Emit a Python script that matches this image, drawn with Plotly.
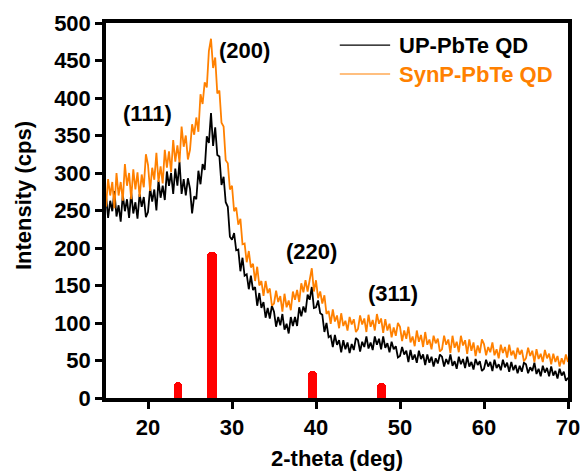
import plotly.graph_objects as go

# 2-theta grid of the scans (0.25 deg step, 15-70 deg)
two_theta = [15 + 0.25 * i for i in range(221)]

# Unprocessed PbTe quantum dots (cps)
up_pbte = [
    270, 240, 263, 249, 276, 242, 257, 235, 271, 249, 265, 240, 274, 246, 261, 239, 272, 255, 268, 241,
    248, 280, 262, 278, 250, 290, 267, 283, 264, 302, 283, 300, 272, 306, 283, 315, 272, 292, 270, 293,
    279, 246, 269, 265, 303, 285, 312, 304, 349, 340, 380, 336, 361, 324, 322, 284, 295, 261, 255, 215,
    211, 220, 197, 198, 169, 187, 163, 165, 145, 163, 144, 148, 123, 140, 120, 128, 107, 120, 106, 123,
    115, 95, 108, 97, 112, 91, 99, 86, 108, 96, 108, 96, 121, 109, 122, 114, 138, 131, 148, 120,
    121, 130, 113, 111, 88, 100, 81, 83, 68, 84, 71, 77, 61, 77, 65, 74, 60, 72, 64, 80,
    77, 62, 75, 68, 82, 66, 74, 64, 82, 71, 79, 65, 82, 67, 73, 61, 75, 65, 69, 54,
    56, 68, 58, 63, 48, 64, 51, 58, 47, 63, 52, 58, 44, 58, 47, 55, 42, 53, 46, 58,
    55, 42, 52, 45, 58, 43, 49, 39, 55, 45, 52, 40, 55, 42, 48, 38, 52, 44, 49, 36,
    39, 51, 42, 48, 36, 51, 40, 45, 37, 51, 41, 47, 35, 48, 37, 44, 33, 43, 35, 47,
    45, 33, 41, 36, 47, 32, 39, 29, 43, 34, 40, 29, 42, 30, 36, 26, 39, 30, 35, 23,
    27,
]

# Synthesised PbTe quantum dots (cps)
synp_pbte = [
    255, 292, 270, 288, 253, 300, 270, 288, 263, 312, 283, 300, 265, 305, 278, 301, 268, 298, 281, 325,
    311, 276, 307, 291, 327, 288, 309, 286, 331, 307, 329, 301, 344, 315, 337, 314, 362, 335, 350, 318,
    331, 365, 351, 374, 355, 405, 392, 421, 414, 463, 479, 440, 454, 406, 410, 367, 362, 317, 313, 278,
    283, 249, 254, 231, 239, 205, 206, 181, 196, 174, 179, 156, 175, 150, 156, 136, 156, 140, 146, 123,
    126, 143, 128, 136, 115, 139, 121, 130, 117, 142, 131, 144, 128, 153, 141, 157, 142, 160, 173, 142,
    157, 133, 142, 126, 137, 112, 116, 99, 118, 102, 110, 93, 113, 96, 103, 90, 108, 98, 105, 88,
    92, 110, 98, 106, 88, 111, 95, 104, 90, 112, 99, 106, 87, 105, 90, 99, 81, 94, 83, 100,
    95, 76, 90, 79, 95, 74, 82, 69, 90, 75, 84, 68, 88, 71, 78, 65, 83, 73, 79, 62,
    65, 83, 71, 78, 60, 83, 67, 75, 61, 83, 70, 77, 59, 78, 63, 74, 56, 70, 60, 78,
    72, 57, 68, 61, 74, 57, 65, 53, 71, 60, 68, 54, 71, 57, 63, 52, 67, 58, 64, 49,
    53, 67, 56, 63, 48, 65, 52, 59, 48, 64, 53, 59, 45, 59, 48, 56, 42, 53, 45, 58,
    48,
]

# Reference reflections of cubic PbTe
ref_pos = [23.6, 27.6, 39.6, 47.8]
ref_int = [22, 195, 36, 20]
ref_width = [1.0, 1.2, 1.0, 1.0]

# Miller-index labels
hkl_labels = ["(111)", "(200)", "(220)", "(311)"]
hkl_x = [19.9, 31.5, 39.5, 49.2]
hkl_y = [380, 464, 195, 140]

series_names = ["UP-PbTe QD", "SynP-PbTe QD"]
x_ticks = [20, 30, 40, 50, 60, 70]
y_ticks = [0, 50, 100, 150, 200, 250, 300, 350, 400, 450, 500]

FONT = "Liberation Sans, Arial, sans-serif"
FS = 22
BLACK = "#000000"
ORANGE = "#FF8000"


def bold(size=FS, color=BLACK):
    return dict(family=FONT, size=size, color=color, weight="bold")


fig = go.Figure()

fig.add_trace(go.Bar(
    x=ref_pos, y=ref_int, width=ref_width,
    marker=dict(color="#FF0000", line=dict(width=0), cornerradius=4),
    showlegend=False, hoverinfo="skip",
))

for name, yv, col in zip(series_names, [up_pbte, synp_pbte], [BLACK, ORANGE]):
    fig.add_trace(go.Scatter(
        x=two_theta, y=yv, mode="lines", name=name,
        line=dict(color=col, width=1.8), showlegend=False,
    ))

for txt, xv, yv in zip(hkl_labels, hkl_x, hkl_y):
    fig.add_annotation(x=xv, y=yv, text=txt, showarrow=False, font=bold())

# Legend drawn as line samples plus coloured labels
for name, col, ly in zip(series_names, [BLACK, ORANGE], [0.941, 0.864]):
    fig.add_shape(type="line", xref="paper", yref="paper",
                  x0=0.506, x1=0.615, y0=ly, y1=ly,
                  line=dict(color=col, width=1.2))
    fig.add_annotation(xref="paper", yref="paper", x=0.630, y=ly,
                       xanchor="left", yanchor="middle", text=name,
                       showarrow=False, font=bold(color=col))

# Vertical axis title
fig.add_annotation(xref="paper", yref="paper", x=-0.177, y=0.539,
                   text="Intensity (cps)", textangle=-90, showarrow=False,
                   xanchor="center", yanchor="middle", font=bold())

axis_common = dict(
    showline=True, linecolor=BLACK, linewidth=3.5, mirror=True,
    ticks="outside", ticklen=7, tickwidth=2.5, tickcolor=BLACK,
    showgrid=False, zeroline=False, automargin=False,
    tickfont=bold(),
)

fig.update_xaxes(
    range=[15, 70], tickvals=x_ticks,
    title=dict(text="2-theta (deg)", standoff=16, font=bold()),
    **axis_common,
)
fig.update_yaxes(range=[0, 500], tickvals=y_ticks, **axis_common)

fig.update_layout(
    width=582, height=471,
    margin=dict(l=106, r=14, t=23, b=73),
    plot_bgcolor="white", paper_bgcolor="white",
    bargap=0, showlegend=False,
)

fig.write_html("out.html")
